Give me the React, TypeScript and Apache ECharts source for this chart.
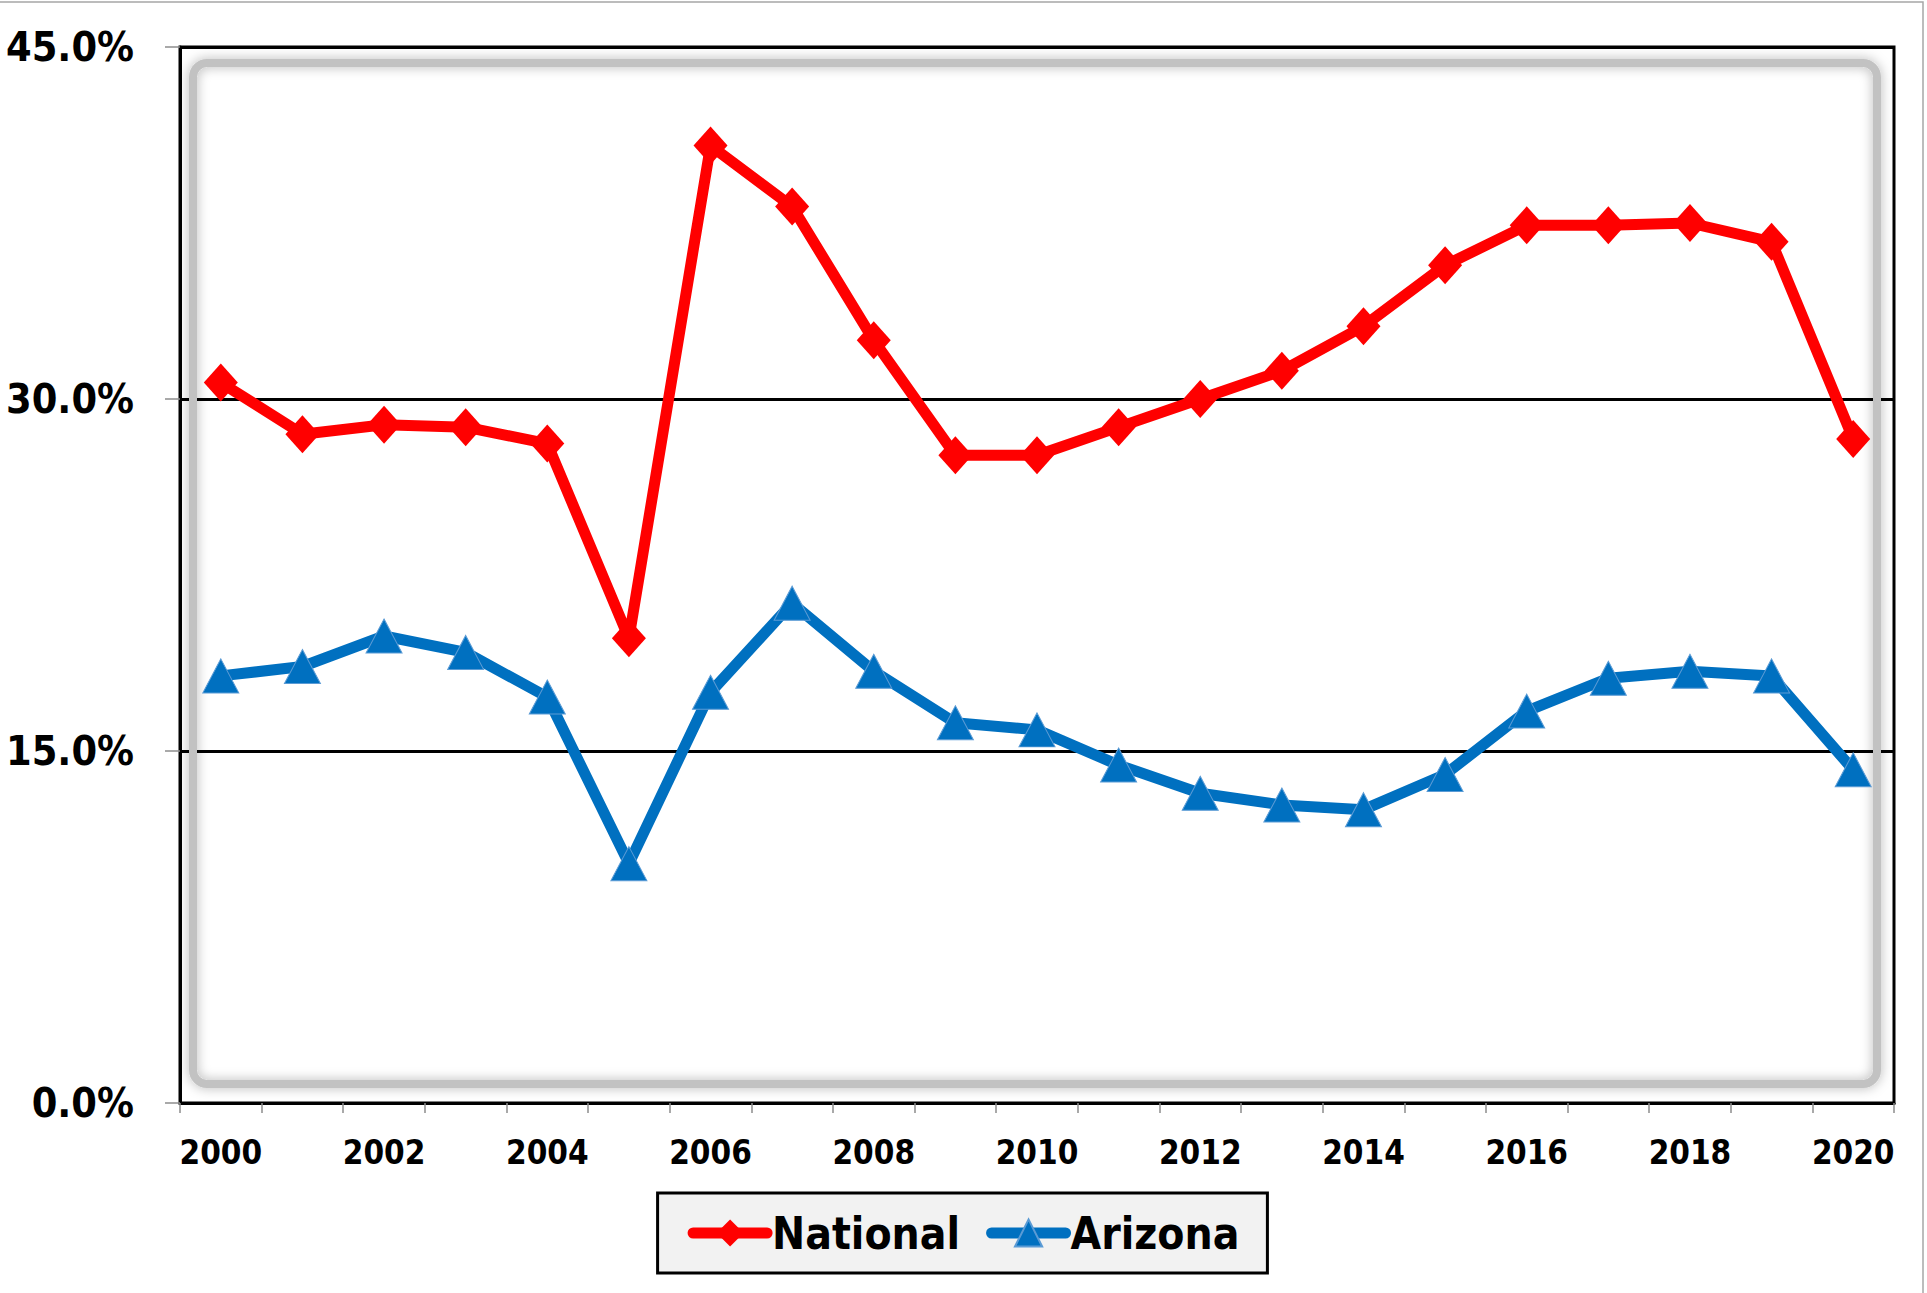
import React, { useEffect, useRef } from "react";
import * as echarts from "echarts";

const years = [
  "2000", "2001", "2002", "2003", "2004", "2005", "2006", "2007", "2008", "2009", "2010",
  "2011", "2012", "2013", "2014", "2015", "2016", "2017", "2018", "2019", "2020",
];
const nationalValues = [
  30.7, 28.5, 28.9, 28.8, 28.1, 19.8, 40.8, 38.2, 32.5, 27.6, 27.6,
  28.8, 30.0, 31.2, 33.1, 35.7, 37.4, 37.4, 37.5, 36.7, 28.3,
];
const arizonaValues = [
  18.2, 18.6, 19.9, 19.2, 17.3, 10.2, 17.5, 21.3, 18.4, 16.2, 15.9,
  14.4, 13.2, 12.7, 12.5, 14.0, 16.7, 18.1, 18.4, 18.2, 14.2,
];
const seriesNames = ["National", "Arizona"];
const yMin = 0;
const yMax = 45;
const yStep = 15;

const FONT = "'Liberation Sans Narrow', 'DejaVu Sans Condensed', 'Open Sans', sans-serif";

export default function App() {
  const ref = useRef<HTMLDivElement>(null);
  useEffect(() => {
    if (!ref.current) return;
    const chart = echarts.init(ref.current, undefined, { renderer: "svg" });
    chart.setOption({
      animation: false,
      backgroundColor: "#ffffff",
      textStyle: { fontFamily: FONT },
      grid: {
        left: 180,
        right: 33,
        top: 47,
        bottom: 190,
        show: true,
        borderColor: "#000000",
        borderWidth: 3,
        backgroundColor: "transparent",
      },
      graphic: [
        {
          type: "rect",
          z: 1,
          shape: { x: 193, y: 63, width: 1684, height: 1021, r: 14 },
          style: {
            fill: "none",
            stroke: "#c2c2c2",
            lineWidth: 8,
            shadowBlur: 12,
            shadowColor: "rgba(0,0,0,0.3)",
          },
          silent: true,
        },
        {
          type: "rect",
          z: 1,
          shape: { x: -2, y: 2, width: 1925, height: 1320 },
          style: { fill: "none", stroke: "#a6a6a6", lineWidth: 1.5 },
          silent: true,
        },
      ],
      legend: {
        left: "center",
        top: 1193,
        data: seriesNames,
        backgroundColor: "#f2f2f2",
        borderColor: "#000000",
        borderWidth: 3,
        padding: [18, 28, 18, 30],
        itemGap: 26,
        itemWidth: 74,
        itemHeight: 34,
        lineStyle: { width: 11, cap: "round" },
        textStyle: { fontFamily: FONT, fontWeight: "bold", fontSize: 44, color: "#000000" },
      },
      xAxis: {
        type: "category",
        data: years,
        boundaryGap: true,
        axisLine: { show: true, lineStyle: { color: "#000000", width: 3 } },
        axisTick: { show: true, interval: 0, length: 10, lineStyle: { color: "#8c8c8c", width: 1.5 } },
        axisLabel: {
          interval: 1,
          margin: 33,
          fontFamily: FONT,
          fontWeight: "bold",
          fontSize: 33,
          color: "#000000",
        },
        splitLine: { show: false },
      },
      yAxis: {
        type: "value",
        min: yMin,
        max: yMax,
        interval: yStep,
        axisLine: { show: true, lineStyle: { color: "#000000", width: 3 } },
        axisTick: { show: true, length: 15, lineStyle: { color: "#8c8c8c", width: 1.5 } },
        axisLabel: {
          margin: 46,
          fontFamily: FONT,
          fontWeight: "bold",
          fontSize: 41,
          color: "#000000",
          formatter: (v: number) => v.toFixed(1) + "%",
        },
        splitLine: { show: true, lineStyle: { color: "#000000", width: 3 } },
      },
      series: [
        {
          name: seriesNames[0],
          type: "line",
          data: nationalValues,
          symbol: "diamond",
          symbolSize: [34, 38],
          z: 4,
          lineStyle: { color: "#ff0000", width: 11 },
          itemStyle: { color: "#ff0000", borderColor: "#ff0000", borderWidth: 0 },
        },
        {
          name: seriesNames[1],
          type: "line",
          data: arizonaValues,
          symbol: "triangle",
          symbolSize: [36, 34],
          z: 3,
          lineStyle: { color: "#0070c0", width: 11 },
          itemStyle: { color: "#0070c0", borderColor: "#5b9bd5", borderWidth: 1 },
        },
      ],
    });
    return () => chart.dispose();
  }, []);
  return (
    <div
      ref={ref}
      style={{ position: "fixed", left: 0, top: 0, width: 1927, height: 1293 }}
    />
  );
}
